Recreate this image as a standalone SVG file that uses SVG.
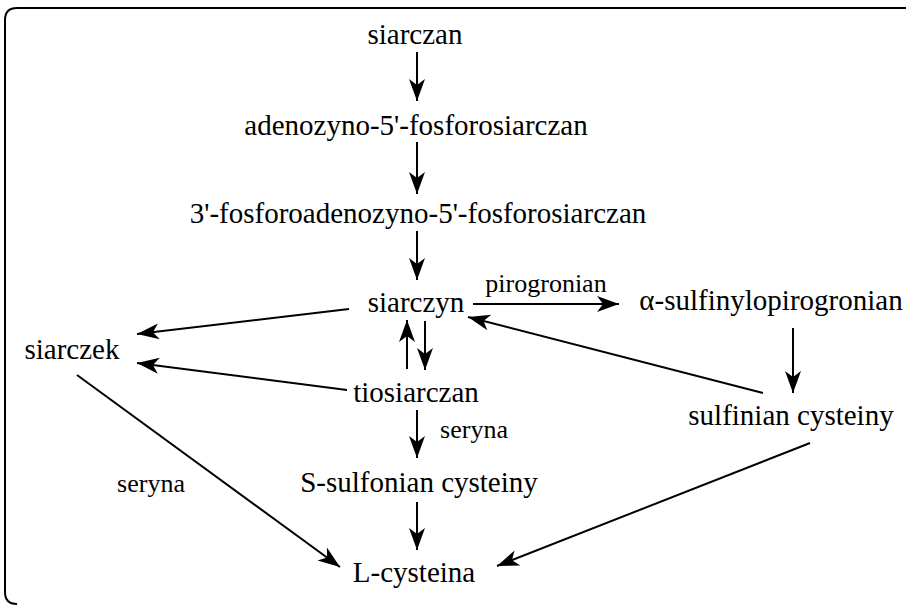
<svg xmlns="http://www.w3.org/2000/svg" width="911" height="605" viewBox="0 0 911 605">
  <style>
    .t, .lbl { font-family: 'Liberation Serif', Tinos, 'Times New Roman', 'DejaVu Serif', serif; fill: #000; text-anchor: middle; }
    .t { font-size: 29px; }
    .lbl { font-size: 26px; }
    .c { stroke: #000; stroke-width: 2; fill: none; marker-end: url(#head); }
    .frame { stroke: #000; stroke-width: 2; fill: none; }
  </style>
  <defs>
    <!-- filled arrowhead with a slightly notched back -->
    <marker id="head" markerUnits="userSpaceOnUse" markerWidth="26" markerHeight="20" viewBox="-24 -10 26 20" refX="0" refY="0" orient="auto">
      <path d="M0,0 L-22,-8 L-16,0 L-22,8 Z" fill="#000"/>
    </marker>
  </defs>

  <rect width="911" height="605" fill="#fff"/>
  <!-- outer frame -->
  <path class="frame" d="M906,8 H17 Q5,8 5,20 V592 Q5,604 17,604"/>

  <!-- connectors -->
  <g id="connectors">
    <line class="c" x1="417" y1="52" x2="417" y2="101"/>
    <line class="c" x1="417" y1="142" x2="417" y2="194"/>
    <line class="c" x1="417" y1="231" x2="417" y2="280"/>
    <line class="c" x1="473" y1="304" x2="619" y2="304"/>
    <line class="c" x1="793" y1="328" x2="793" y2="393"/>
    <line class="c" x1="763" y1="393" x2="468" y2="317"/>
    <line class="c" x1="425" y1="321" x2="425" y2="370"/>
    <line class="c" x1="407" y1="369" x2="407" y2="320"/>
    <line class="c" x1="349" y1="309" x2="137" y2="334"/>
    <line class="c" x1="347" y1="390" x2="137" y2="363"/>
    <line class="c" x1="77" y1="375" x2="340" y2="567"/>
    <line class="c" x1="417" y1="410" x2="417" y2="458"/>
    <line class="c" x1="417" y1="502" x2="417" y2="550"/>
    <line class="c" x1="810" y1="443" x2="497" y2="566"/>
  </g>

  <!-- nodes -->
  <g id="siarczan"><text class="t" x="415" y="44">siarczan</text></g>
  <g id="aps"><text class="t" x="416" y="135">adenozyno-5'-fosforosiarczan</text></g>
  <g id="paps"><text class="t" x="418" y="223">3'-fosforoadenozyno-5'-fosforosiarczan</text></g>
  <g id="siarczyn"><text class="t" x="416" y="312">siarczyn</text></g>
  <g id="sulfinylopirogronian"><text class="t" x="771" y="310">α-sulfinylopirogronian</text></g>
  <g id="siarczek"><text class="t" x="72" y="359">siarczek</text></g>
  <g id="tiosiarczan"><text class="t" x="416" y="402">tiosiarczan</text></g>
  <g id="sulfinian"><text class="t" x="791" y="425">sulfinian cysteiny</text></g>
  <g id="s-sulfonian"><text class="t" x="419" y="492">S-sulfonian cysteiny</text></g>
  <g id="l-cysteina"><text class="t" x="414" y="582">L-cysteina</text></g>

  <!-- reaction labels -->
  <g id="labels">
    <text class="lbl" x="546" y="292">pirogronian</text>
    <text class="lbl" x="151" y="492">seryna</text>
    <text class="lbl" x="474" y="438">seryna</text>
  </g>
</svg>
